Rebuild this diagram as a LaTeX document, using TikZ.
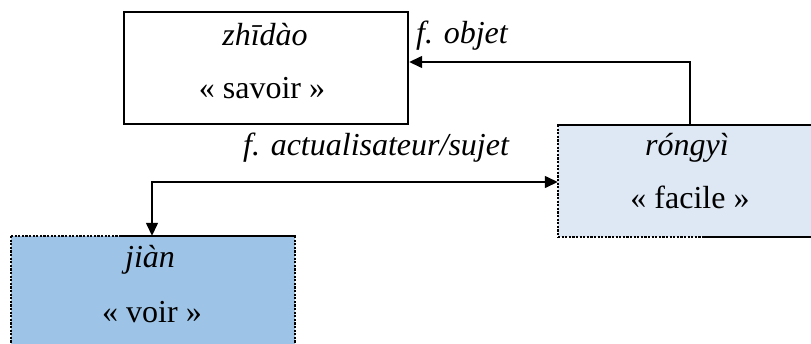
\documentclass[tikz,border=0pt]{standalone}
\usepackage{fontspec}
\setmainfont{Liberation Serif}
\usetikzlibrary{arrows.meta}
\definecolor{lightbox}{HTML}{DEE8F4}
\definecolor{midbox}{HTML}{9DC3E6}
\begin{document}
\begin{tikzpicture}[x=1pt,y=-1pt,
  txt/.style={font=\fontsize{32}{36}\selectfont, inner sep=0pt, anchor=base},
  itx/.style={font=\fontsize{32}{36}\selectfont\itshape, inner sep=0pt, anchor=base},
  lab/.style={font=\fontsize{32}{36}\selectfont\itshape, inner sep=0pt, anchor=base west},
  solidedge/.style={line width=2.4pt, line cap=rect},
  dashedge/.style={line width=2.4pt, dash pattern=on 2.2pt off 1.4pt},
  conn/.style={line width=1.4pt, -{Triangle[length=13pt,width=12pt]}},
  conn2/.style={line width=1.4pt, {Triangle[length=13pt,width=12pt]}-{Triangle[length=13pt,width=12pt]}}]
\useasboundingbox (0,0) rectangle (811,343);
% zhidao box
\node[draw, line width=2.4pt, fill=white, minimum width=284pt, minimum height=112pt, inner sep=0pt] (zd) at (266,68) {};
\node[itx] (zdt) at (265,45) {zhīdào};
\node[txt] (zds) at (262,98) {« savoir »};
% rongyi box
\fill[lightbox] (558,125) rectangle (813,237);
\draw[solidedge] (558,125) -- (813,125);
\draw[dashedge] (558,125) -- (558,237);
\draw[dashedge] (558,237) -- (703,237);
\draw[solidedge] (703,237) -- (813,237);
\node[inner sep=0pt, minimum width=255pt, minimum height=112pt] (ry) at (685.5,181) {};
\node[itx] (ryt) at (687,155) {róngyì};
\node[txt] (rys) at (690,208) {« facile »};
% jian box
\fill[midbox] (11,236) rectangle (295,350);
\draw[dashedge] (11,236) -- (122,236);
\draw[solidedge] (122,236) -- (295,236);
\draw[dashedge] (11,236) -- (11,350);
\draw[dashedge] (295,236) -- (295,350);
\node[inner sep=0pt, minimum width=284pt, minimum height=114pt] (ji) at (153,293) {};
\node[itx] (jit) at (150,267) {jiàn};
\node[txt] (jis) at (152,322) {« voir »};
% connectors
\coordinate (c1) at (690,62);
\draw[conn] (ry.north -| c1) -- (c1) -- (zd.east |- c1);
\coordinate (c2) at (152,182);
\draw[conn2] (ry.west |- c2) -- (c2) -- (ji.north -| c2);
% labels
\node[lab] (l1) at (416,43) {f. objet};
\node[lab] (l2) at (243,155) {f. actualisateur/sujet};
\end{tikzpicture}
\end{document}
